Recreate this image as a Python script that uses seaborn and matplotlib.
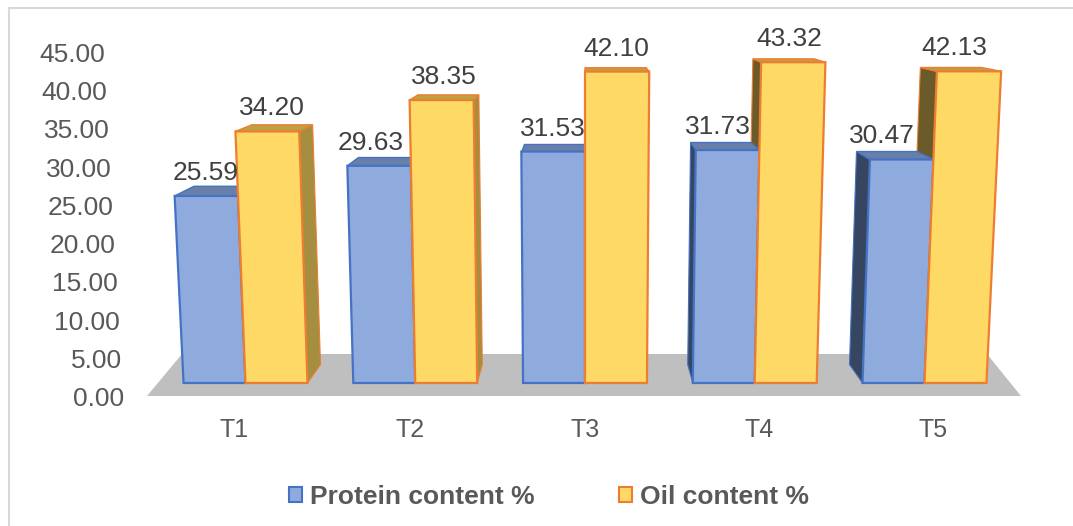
import matplotlib
matplotlib.use("Agg")
import matplotlib.pyplot as plt
from matplotlib.lines import Line2D
from matplotlib.patches import Polygon
import pandas as pd
import seaborn as sns

# values
treatments = ["T1", "T2", "T3", "T4", "T5"]
protein = [25.59, 29.63, 31.53, 31.73, 30.47]
oil = [34.20, 38.35, 42.10, 43.32, 42.13]
y_ticks = [0, 5, 10, 15, 20, 25, 30, 35, 40, 45]

# pixel layout of the picture
W, H = 1073, 526
X_CENTRE, CAT_PX = 585, 169.75
Y_BASE, UNIT_PX = 383, 7.41

# fake 3D view
SLANT = 8.67e-4
VP_X, VP_Y = 2.0, 53.0
DEPTH = 0.047

BLUE = dict(face="#8FAADC", edge="#4472C4", top="#6A7FA8", left="#364660", right="#5A6F96")
GOLD = dict(face="#FFD966", edge="#ED7D31", top="#BFA145", left="#6B5A2A", right="#A68E40")

# sideways shift of each value label, pixels
protein_dx = [-1, -8, 0, -10, -20]
oil_dx = [5, 2, -1, -4, -15]


def to_x(px):
    return (px - X_CENTRE) / CAT_PX + 2


def to_y(py):
    return (Y_BASE - py) / UNIT_PX


def warp(v):
    # heights stretch a little towards the top of the view
    return v * (0.968 + 0.00072 * v)


def front(x, v):
    return (VP_X + (x - VP_X) * (1 + SLANT * v), warp(v))


def back(p, t=DEPTH):
    return (p[0] + t * (VP_X - p[0]), p[1] + t * (VP_Y - p[1]))


sns.set_theme(style="white")
plt.rcParams["font.family"] = ["Liberation Sans", "DejaVu Sans"]

df = pd.DataFrame({
    "Treatment": treatments * 2,
    "Value": protein + oil,
    "Series": ["Protein content %"] * 5 + ["Oil content %"] * 5,
})

fig = plt.figure(figsize=(W / 100, H / 100), dpi=100)
ax = fig.add_axes([0, 0, 1, 1])
sns.barplot(data=df, x="Treatment", y="Value", hue="Series", order=treatments,
            palette=[BLUE["face"], GOLD["face"]], saturation=1, width=0.73, gap=0, ax=ax)

bars_p = list(ax.containers[0])
bars_o = list(ax.containers[1])
for r in bars_p + bars_o:
    r.set_visible(False)


def add_poly(pts, face, edge, lw, z):
    ax.add_patch(Polygon(pts, closed=True, facecolor=face, edgecolor=edge, lw=lw,
                         joinstyle="miter", zorder=z))


def draw_sides(r, c, z):
    x0, x1, v = r.get_x(), r.get_x() + r.get_width(), r.get_height()
    if x1 < VP_X - 0.01:
        a, b = front(x1, 0), front(x1, v)
        add_poly([a, b, back(b), back(a)], c["right"], c["edge"], 0.8, z)
    if x0 > VP_X + 0.01:
        a, b = front(x0, 0), front(x0, v)
        add_poly([a, b, back(b), back(a)], c["left"], c["edge"], 0.8, z)


def draw_top_front(r, c, z):
    x0, x1, v = r.get_x(), r.get_x() + r.get_width(), r.get_height()
    a, b = front(x0, v), front(x1, v)
    add_poly([a, b, back(b), back(a)], c["top"], c["edge"], 1.0, z)
    add_poly([front(x0, 0), a, b, front(x1, 0)], c["face"], c["edge"], 1.6, z + 0.1)


# floor, front edge below the bars and back edge behind them
fy, by = to_y(396), to_y(354)
add_poly([(to_x(147), fy), (to_x(1021), fy), (to_x(987), by), (to_x(182), by)],
         "#BFBFBF", "none", 0, 1)

for i, (rp, ro) in enumerate(zip(bars_p, bars_o)):
    z = 2 + i
    draw_sides(ro, GOLD, z)
    draw_sides(rp, BLUE, z + 0.1)
    draw_top_front(rp, BLUE, z + 0.2)
    draw_top_front(ro, GOLD, z + 0.4)

# value labels
for bars, dxs in ((bars_p, protein_dx), (bars_o, oil_dx)):
    for r, dx in zip(bars, dxs):
        v = r.get_height()
        cx, top = front(r.get_x() + r.get_width() / 2, v)
        ax.text(cx + dx / CAT_PX, top + 23 / UNIT_PX, f"{v:.2f}", ha="center", va="center",
                fontsize=19, color="#404040", zorder=20)

# y tick labels run along the slanted wall
for t in y_ticks:
    ax.text(to_x(124.5 - 19.5 * t / 45), to_y(399 - 344 * t / 45), f"{t:.2f}",
            ha="right", va="center", fontsize=19, color="#595959")

for name, px in zip(treatments, [234, 410, 585, 759, 933]):
    ax.text(to_x(px), to_y(430), name, ha="center", va="center", fontsize=18, color="#595959")

ax.set_xlim(to_x(0), to_x(W))
ax.set_ylim(to_y(H), to_y(0))

sns.move_legend(ax, "center", bbox_to_anchor=(549 / W, 1 - 497 / H), ncol=2, title=None,
                frameon=False, handlelength=0.49, handleheight=0.5, handletextpad=0.3,
                columnspacing=3.18, borderpad=0, borderaxespad=0,
                prop={"weight": "bold", "size": 19})
leg = ax.get_legend()
for h, c in zip(leg.legend_handles, (BLUE, GOLD)):
    h.set_facecolor(c["face"])
    h.set_edgecolor(c["edge"])
    h.set_linewidth(1.5)
for t in leg.get_texts():
    t.set_color("#595959")

ax.set_axis_off()

# chart frame, only top and left survive in the picture
fig.add_artist(Line2D([9 / W, 9 / W], [0, 1 - 8 / H], color="#D9D9D9", lw=1.5))
fig.add_artist(Line2D([9 / W, 1], [1 - 8 / H, 1 - 8 / H], color="#D9D9D9", lw=1.5))

fig.savefig("out.png", dpi=100)
